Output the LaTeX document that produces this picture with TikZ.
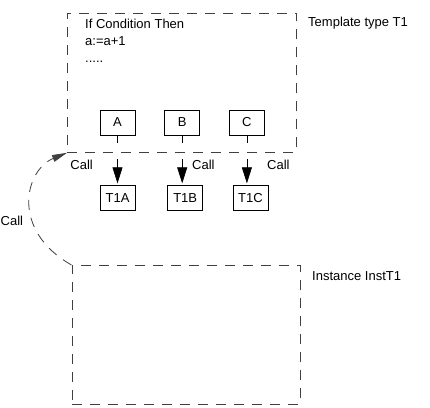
\documentclass[tikz,border=0pt]{standalone}
\usepackage{fontspec}
\setmainfont{Liberation Sans}
\usetikzlibrary{arrows.meta,positioning}
\tikzset{
  box/.style={draw, rectangle, minimum width=35pt, minimum height=25pt, inner sep=0pt, line width=0.7pt, font=\fontsize{13}{15}\selectfont},
  frame/.style={draw=black!75, line width=0.8pt, dash pattern=on 10pt off 8pt},
  arr/.style={-{Triangle[length=16pt,width=10pt]}, line width=0.7pt, dash pattern=on 8pt off 16pt on 300pt, shorten >=2pt},
  darr/.style={-{Triangle[length=15pt,width=7pt]}, draw=black!75, line width=0.8pt, dash pattern=on 10pt off 8pt},
  lbl/.style={font=\fontsize{13}{17}\selectfont, inner sep=0pt, anchor=base west}
}

\begin{document}
\begin{tikzpicture}[x=1pt, y=-1pt]
\useasboundingbox (0,0) rectangle (430,407);
% template and instance frames
\node[frame, rectangle, minimum width=229pt, minimum height=139.5pt, inner sep=0pt, anchor=north west] (tmpl) at (67,12.5) {};
\node[frame, rectangle, minimum width=228pt, minimum height=139pt, inner sep=0pt, anchor=north west] (inst) at (71.5,265) {};
\node[lbl] (tmpllbl) at (308,26) {Template type T1};
\node[lbl] (instlbl) at (312,280) {Instance InstT1};
\node[lbl, align=left, anchor=north west] (code) at (85,18.5) {If Condition Then\\a:=a+1\\.....};
% ports and targets
\node[box] (A) at (117.5,122.5) {A};
\node[box, right=29pt of A] (B) {B};
\node[box, right=29pt of B] (C) {C};
\node[box, below=50pt of A] (T1A) {T1A};
\node[box, below=50pt of B, xshift=3pt] (T1B) {T1B};
\node[box, below=50pt of C, xshift=3.5pt] (T1C) {T1C};
\draw[arr] (A) -- (A |- T1A.north);
\draw[arr] (B) -- (B |- T1B.north);
\draw[arr] (C) -- (C |- T1C.north);
\node[lbl, anchor=base east] (callA) at (93,169) {Call};
\node[lbl] (callB) at (192,169) {Call};
\node[lbl] (callC) at (267,169) {Call};
% call back from the instance
\draw[darr] (inst.north west) .. controls (10,230) and (25,170) .. (tmpl.south west);
\node[lbl] (callI) at (0.5,225) {Call};
\end{tikzpicture}
\end{document}
